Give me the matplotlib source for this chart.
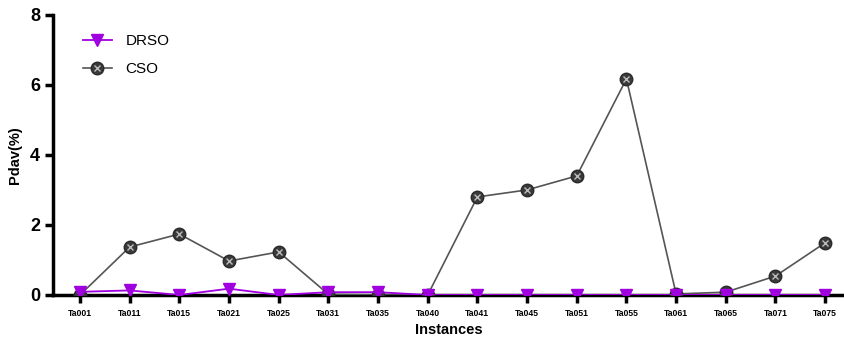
import matplotlib.pyplot as plt

instances = ["Ta001", "Ta011", "Ta015", "Ta021", "Ta025", "Ta031", "Ta035", "Ta040",
             "Ta041", "Ta045", "Ta051", "Ta055", "Ta061", "Ta065", "Ta071", "Ta075"]
drso = [0.09, 0.13, 0.0, 0.18, 0.0, 0.08, 0.08, 0.0, 0.0, 0.0, 0.0, 0.0, 0.0, 0.0, 0.0, 0.0]
cso = [0.0, 1.37, 1.74, 0.97, 1.23, 0.02, 0.0, 0.0, 2.80, 3.00, 3.40, 6.17, 0.03, 0.08, 0.54, 1.49]

plt.rcParams['font.family'] = ['Liberation Sans', 'DejaVu Sans']

fig = plt.figure(figsize=(8.44, 3.45), dpi=100)
ax = fig.add_axes([0.063, 0.145, 0.937, 0.812])

x = list(range(len(instances)))
cso_line, = ax.plot(x, cso, color="#555555", lw=1.2, marker="o", ms=9, mfc="#3a3a3a",
                    mec="#2a2a2a", zorder=3)
cso_cross, = ax.plot(x, cso, ls="none", marker="x", ms=4.5, mew=1.0, color="#bbbbbb", zorder=4)
drso_line, = ax.plot(x, drso, color="#a000e0", lw=1.3, marker="v", ms=8, mfc="#a000e0",
                     mec="#a000e0", zorder=5)

ax.set_xlim(-0.54, 15.38)
ax.set_ylim(0, 8)
ax.set_yticks([0, 2, 4, 6, 8])
ax.set_xticks(x)
ax.set_xticklabels(instances, fontsize=6.2, fontweight="bold")
for lab in ax.get_yticklabels():
    lab.set_fontweight("bold")
    lab.set_fontsize(13)

for s in ["top", "right"]:
    ax.spines[s].set_visible(False)
for s in ["left", "bottom"]:
    ax.spines[s].set_linewidth(2.5)
ax.tick_params(axis="both", width=2.5, length=6, direction="out")
ax.tick_params(axis="x", pad=4)

ax.set_xlabel("Instances", fontsize=10.5, fontweight="bold")
ax.set_ylabel("Pdav(%)", fontsize=10.5, fontweight="bold", labelpad=6)

ax.legend([drso_line, (cso_line, cso_cross)], ["DRSO", "CSO"], loc="upper left",
          frameon=False, fontsize=11, bbox_to_anchor=(0.02, 0.98), handlelength=1.9,
          labelspacing=0.9, handletextpad=0.9)

fig.savefig("out.png", dpi=100)
